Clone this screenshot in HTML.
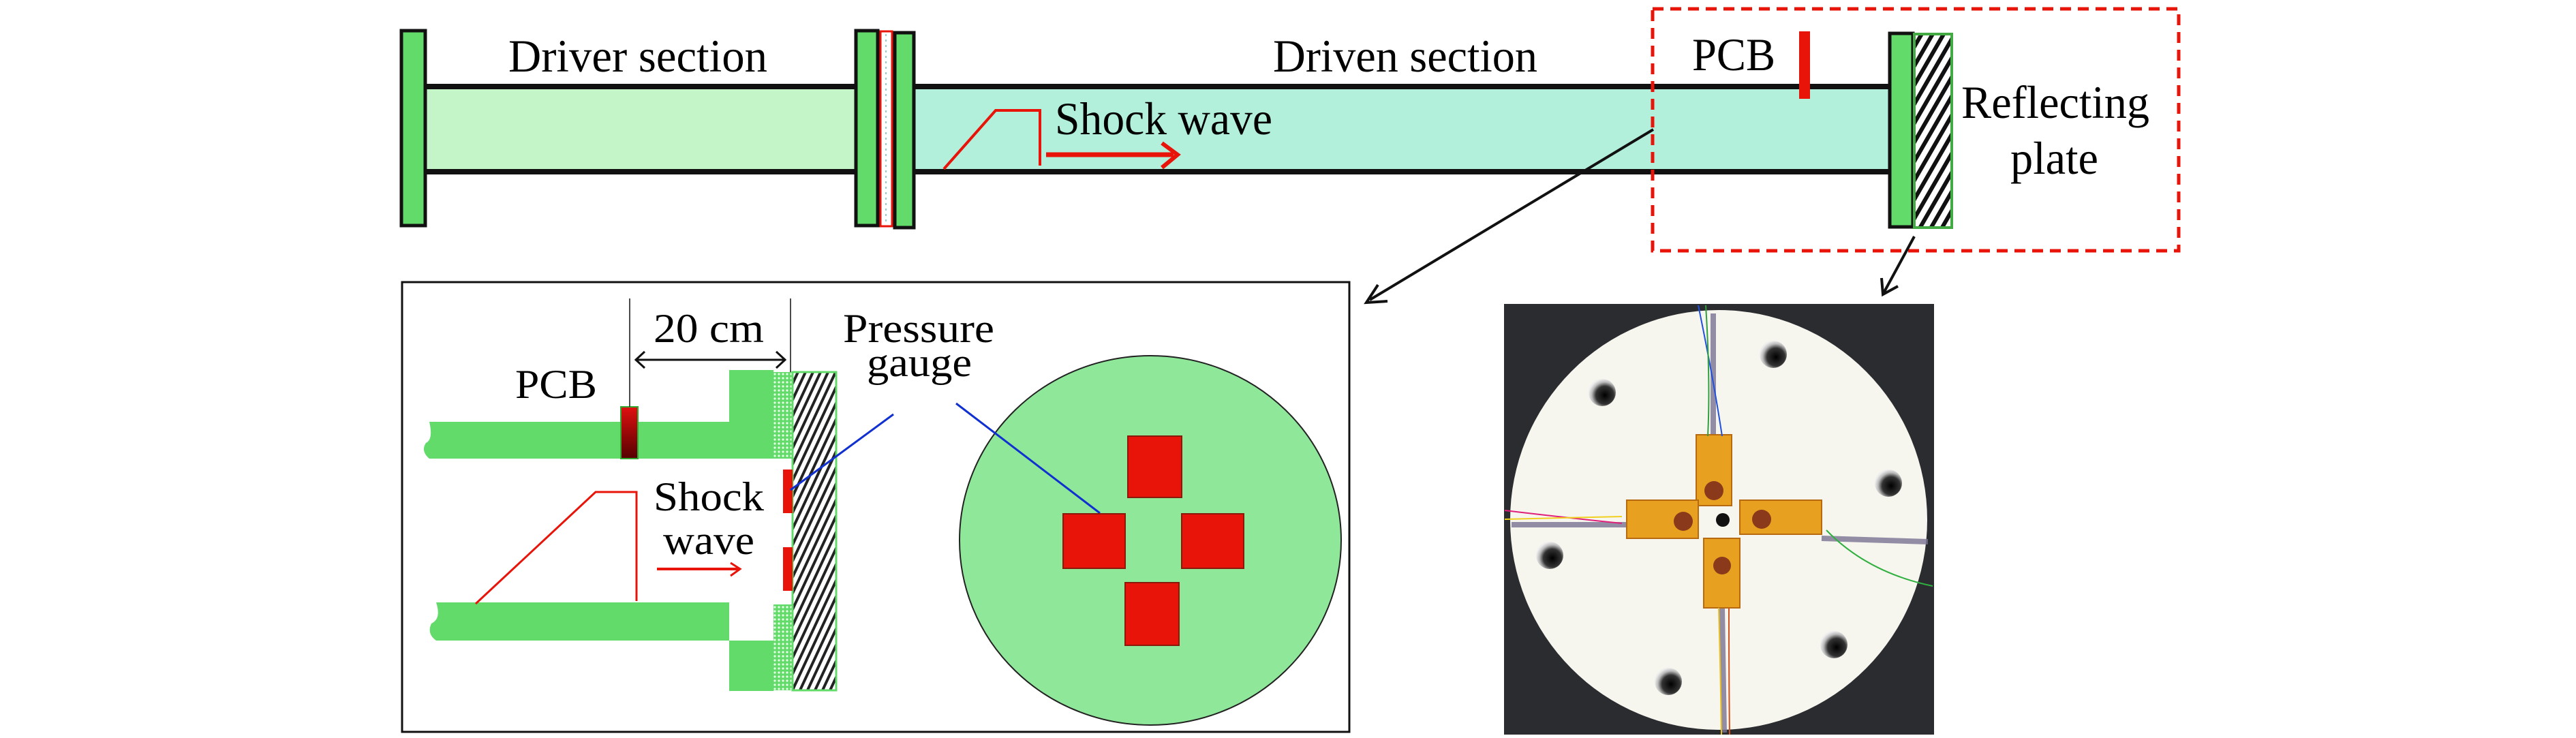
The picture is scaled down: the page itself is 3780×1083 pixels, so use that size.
<!DOCTYPE html>
<html><head><meta charset="utf-8"><style>html,body{margin:0;padding:0;background:#fff}svg{display:block}svg text{font-family:"Liberation Serif","DejaVu Serif",serif !important;fill:#000}</style></head><body>
<svg width="3780" height="1083" viewBox="0 0 3780 1083" xmlns="http://www.w3.org/2000/svg" font-family="Liberation Serif, DejaVu Serif, serif">
<defs>
<pattern id="hatch" width="14" height="14" patternUnits="userSpaceOnUse" patternTransform="rotate(30)"><rect width="14" height="14" fill="#fff"/><rect width="6" height="14" fill="#111"/></pattern>
<pattern id="hatch2" width="10" height="10" patternUnits="userSpaceOnUse" patternTransform="rotate(25)"><rect width="10" height="10" fill="#fff"/><rect width="4" height="10" fill="#222"/></pattern>
<pattern id="dots" width="6" height="6" patternUnits="userSpaceOnUse"><rect width="6" height="6" fill="#63db6a"/><circle cx="3" cy="3" r="1.6" fill="#e8ffe8"/></pattern>
<linearGradient id="pcbg" x1="0" y1="0" x2="0" y2="1"><stop offset="0" stop-color="#e01010"/><stop offset="1" stop-color="#500"/></linearGradient>
<radialGradient id="holeg" cx="0.6" cy="0.6" r="0.6"><stop offset="0" stop-color="#000"/><stop offset="0.55" stop-color="#333"/><stop offset="0.8" stop-color="#bbb"/><stop offset="1" stop-color="#eee"/></radialGradient>
</defs>
<!-- top shock tube -->
<rect x="626" y="128" width="630" height="124" fill="#c4f5c8"/>
<rect x="1342" y="128" width="1430" height="124" fill="#b2f0dc"/>
<rect x="626" y="123" width="630" height="8" fill="#111"/>
<rect x="626" y="248" width="630" height="8" fill="#111"/>
<rect x="1342" y="123" width="1430" height="8" fill="#111"/>
<rect x="1342" y="248" width="1430" height="8" fill="#111"/>
<rect x="589" y="45" width="35" height="286" fill="#63db6a" stroke="#111" stroke-width="5"/>
<rect x="1256" y="45" width="32" height="286" fill="#63db6a" stroke="#111" stroke-width="5"/>
<rect x="1292" y="46" width="17" height="286" fill="#fff" stroke="#e8140a" stroke-width="3"/>
<line x1="1300" y1="50" x2="1300" y2="330" stroke="#7bb" stroke-width="1.5" stroke-dasharray="3,5"/>
<rect x="1313" y="48" width="28" height="286" fill="#63db6a" stroke="#111" stroke-width="5"/>
<rect x="2773" y="49" width="34" height="284" fill="#63db6a" stroke="#111" stroke-width="5"/>
<rect x="2809" y="50" width="55" height="284" fill="url(#hatch)" stroke="#44aa44" stroke-width="4"/>
<rect x="2640" y="46" width="16" height="99" fill="#e8140a"/>
<polyline points="1385,248 1461,162 1526,162 1526,243" fill="none" stroke="#e8140a" stroke-width="4"/>
<line x1="1535" y1="227" x2="1722" y2="227" stroke="#e8140a" stroke-width="7"/>
<polyline points="1705,210 1728,227 1705,246" fill="none" stroke="#e8140a" stroke-width="6"/>
<text x="746" y="105" font-size="68" textLength="380" lengthAdjust="spacingAndGlyphs">Driver section</text>
<text x="1868" y="105" font-size="68" textLength="388" lengthAdjust="spacingAndGlyphs">Driven section</text>
<text x="1548" y="197" font-size="68" textLength="319" lengthAdjust="spacingAndGlyphs">Shock wave</text>
<text x="2483" y="103" font-size="68" textLength="122" lengthAdjust="spacingAndGlyphs">PCB</text>
<text x="2878" y="173" font-size="68" textLength="276" lengthAdjust="spacingAndGlyphs">Reflecting</text>
<text x="2950" y="255" font-size="68" textLength="129" lengthAdjust="spacingAndGlyphs">plate</text>
<rect x="2425" y="13" width="772" height="355" fill="none" stroke="#e8140a" stroke-width="5" stroke-dasharray="16,10"/>
<!-- connectors -->
<line x1="2426" y1="190" x2="2010" y2="440" stroke="#111" stroke-width="4"/>
<polyline points="2022,418 2005,444 2036,442" fill="none" stroke="#111" stroke-width="4"/>
<line x1="2809" y1="347" x2="2764" y2="430" stroke="#111" stroke-width="4"/>
<polyline points="2761,408 2763,432 2785,420" fill="none" stroke="#111" stroke-width="4"/>
<!-- lower-left box -->
<rect x="590" y="414" width="1390" height="660" fill="#fff" stroke="#111" stroke-width="3"/>
<path d="M630,619 L1070,619 L1070,543 L1135,543 L1135,673 L630,673 Q617,662 625,650 Q636,645 630,619 Z" fill="#63db6a"/>
<path d="M640,884 L1070,884 L1070,1014 L1135,1014 L1135,940 L640,940 Q626,930 633,915 Q648,908 640,884 Z" fill="#63db6a"/>
<rect x="1135" y="546" width="28" height="127" fill="url(#dots)"/>
<rect x="1135" y="887" width="28" height="126" fill="url(#dots)"/>
<rect x="1163" y="546" width="64" height="467" fill="url(#hatch2)" stroke="#63db6a" stroke-width="3"/>
<rect x="911" y="597" width="25" height="76" fill="url(#pcbg)" stroke="#3a3" stroke-width="2"/>
<line x1="924" y1="438" x2="924" y2="597" stroke="#111" stroke-width="1.5"/>
<line x1="1160" y1="438" x2="1160" y2="546" stroke="#111" stroke-width="1.5"/>
<line x1="935" y1="528" x2="1150" y2="528" stroke="#111" stroke-width="3"/>
<polyline points="946,516 933,528 946,540" fill="none" stroke="#111" stroke-width="3"/>
<polyline points="1139,516 1152,528 1139,540" fill="none" stroke="#111" stroke-width="3"/>
<rect x="1149" y="689" width="14" height="64" fill="#e8140a"/>
<rect x="1149" y="803" width="14" height="64" fill="#e8140a"/>
<polyline points="698,886 874,722 934,722 934,882" fill="none" stroke="#e8140a" stroke-width="3"/>
<line x1="964" y1="835" x2="1084" y2="835" stroke="#e8140a" stroke-width="4"/>
<polyline points="1072,826 1086,835 1072,845" fill="none" stroke="#e8140a" stroke-width="3"/>
<line x1="1311" y1="608" x2="1160" y2="719" stroke="#1030d0" stroke-width="3"/>
<ellipse cx="1688" cy="793" rx="280" ry="271" fill="#8fe89a" stroke="#222" stroke-width="2"/>
<line x1="1403" y1="592" x2="1614" y2="753" stroke="#1030d0" stroke-width="3"/>
<rect x="1655" y="640" width="79" height="90" fill="#e8140a" stroke="#8a1a0a" stroke-width="2"/>
<rect x="1560" y="754" width="91" height="80" fill="#e8140a" stroke="#8a1a0a" stroke-width="2"/>
<rect x="1734" y="754" width="91" height="80" fill="#e8140a" stroke="#8a1a0a" stroke-width="2"/>
<rect x="1651" y="855" width="79" height="92" fill="#e8140a" stroke="#8a1a0a" stroke-width="2"/>
<text x="959" y="502" font-size="60" textLength="162" lengthAdjust="spacingAndGlyphs">20 cm</text>
<text x="756" y="584" font-size="60" textLength="120" lengthAdjust="spacingAndGlyphs">PCB</text>
<text x="1237" y="502" font-size="60" textLength="222" lengthAdjust="spacingAndGlyphs">Pressure</text>
<text x="1272" y="552" font-size="60" textLength="154" lengthAdjust="spacingAndGlyphs">gauge</text>
<text x="959" y="749" font-size="60" textLength="162" lengthAdjust="spacingAndGlyphs">Shock</text>
<text x="973" y="813" font-size="60" textLength="134" lengthAdjust="spacingAndGlyphs">wave</text>
<!-- photo -->
<rect x="2207" y="446" width="631" height="632" fill="#2a2c30"/>
<ellipse cx="2522" cy="763" rx="306" ry="308" fill="#f6f5ee"/>
<g fill="url(#holeg)">
<circle cx="2351" cy="576" r="20"/><circle cx="2602" cy="520" r="20"/><circle cx="2771" cy="709" r="20"/>
<circle cx="2274" cy="815" r="20"/><circle cx="2448" cy="1000" r="20"/><circle cx="2691" cy="946" r="20"/>
</g>
<circle cx="2528" cy="763" r="10" fill="#111"/>
<g stroke="#7a7494" stroke-width="8" opacity="0.8"><line x1="2218" y1="770" x2="2387" y2="770"/><line x1="2673" y1="790" x2="2829" y2="795"/><line x1="2527" y1="892" x2="2530" y2="1075"/><line x1="2514" y1="460" x2="2514" y2="638"/></g>
<g fill="#e8a020" stroke="#b86a10" stroke-width="2">
<rect x="2489" y="638" width="52" height="104"/>
<rect x="2387" y="734" width="105" height="56"/>
<rect x="2553" y="734" width="120" height="50"/>
<rect x="2500" y="790" width="53" height="102"/>
</g>
<g fill="#8a3a1a"><circle cx="2515" cy="720" r="14"/><circle cx="2470" cy="765" r="14"/><circle cx="2585" cy="762" r="14"/><circle cx="2527" cy="830" r="13"/></g>
<g fill="none" stroke-width="2"><path d="M2492,448 Q2515,560 2527,640" stroke="#2050e0"/><path d="M2503,448 Q2510,560 2506,640" stroke="#30a040"/><path d="M2208,749 Q2300,760 2380,768" stroke="#e0207a"/><path d="M2208,762 Q2300,760 2380,758" stroke="#f0d020"/><path d="M2680,778 Q2740,840 2836,860" stroke="#30b040"/><path d="M2522,892 Q2525,1000 2526,1078" stroke="#e8c020"/><path d="M2537,892 Q2537,1000 2538,1078" stroke="#d05020"/></g>
</svg>
</body></html>
